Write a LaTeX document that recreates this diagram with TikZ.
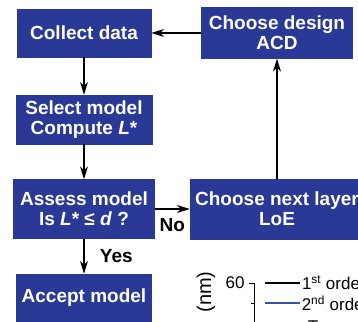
\documentclass[tikz,border=0pt]{standalone}
\usepackage{fontspec}
\setmainfont{Liberation Sans}
\usetikzlibrary{arrows.meta}

\definecolor{boxblue}{RGB}{42,56,150}
\definecolor{lineblue}{RGB}{52,82,176}

\tikzset{
  flowbox/.style={draw=boxblue, fill=boxblue, text=white, inner sep=0pt,
    align=center, font=\bfseries\fontsize{19}{20}\selectfont},
  flowarrow/.style={-{Stealth[length=13pt,width=8pt,inset=4pt]}, line width=1.2pt},
  flowlabel/.style={font=\bfseries\fontsize{19}{19}\selectfont},
  plotfont/.style={font=\fontsize{17}{17}\selectfont}
}

\begin{document}
\begin{tikzpicture}[x=1pt,y=-1pt]
   \useasboundingbox (0,0) rectangle (358,321);
   \clip (0,0) rectangle (358,321);

   % left column
   \path (84,33) node[flowbox, minimum width=134pt, minimum height=48pt] (C) {Collect data};
   \path (84,119.5) node[flowbox, minimum width=136pt, minimum height=49pt] (S)
   {Select model\\ Compute \textit{L}*};
   \path (84,209) node[flowbox, minimum width=141pt, minimum height=59pt] (A)
   {Assess model\\ Is \textit{L}* ≤ \textit{d} ?};
   \path (84,298) node[flowbox, minimum width=135pt, minimum height=48pt] (P) {Accept model};

   % right column
   \path (277,33) node[flowbox, minimum width=151pt, minimum height=51pt] (D)
   {Choose design\\ ACD};
   \path (277,209) node[flowbox, minimum width=174pt, minimum height=60pt] (N)
   {Choose next layer\\ LoE};

   % connectors
   \draw[flowarrow] (C) -- (S);
   \draw[flowarrow] (S) -- (A);
   \draw[flowarrow] (A) -- node[flowlabel, right=12pt] {Yes} (P);
   \draw[flowarrow] (A) -- node[flowlabel, below, yshift=-5pt] {No} (N);
   \draw[flowarrow] (N) -- (D);
   \draw[flowarrow] (D) -- (C);

   % corner of the plot
   \path (206,292) node[rotate=90, font=\fontsize{20}{20}\selectfont] (unit) {(nm)};
   \path (235,283) node[plotfont] (t60) {60};
   \draw[line width=1pt] (249,283) -- (254,283) -- (254,330);
   \draw[line width=1pt] (251,303) -- (254,303);
   \draw[line width=2pt] (265,283) -- (300,283)
     node[plotfont, right, inner sep=1pt] (first) {1\textsuperscript{st} order};
   \draw[line width=1.5pt, lineblue] (265,303) -- (300,303)
     node[plotfont, right, inner sep=1pt, text=black] (second) {2\textsuperscript{nd} order};
   \path (313,327) node[plotfont] (third) {T};
\end{tikzpicture}
\end{document}
